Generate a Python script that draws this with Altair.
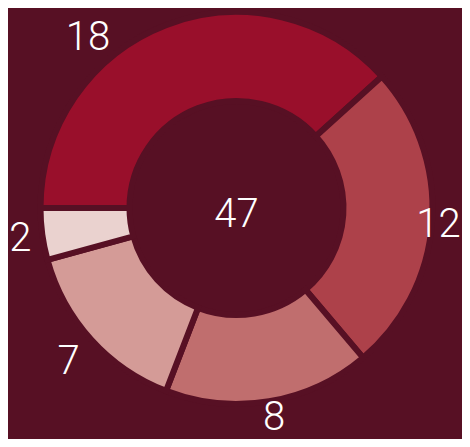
import math
import altair as alt
import pandas as pd

# ---- data ----
segments = ["s1", "s2", "s3", "s4", "s5"]
values = [18, 12, 8, 7, 2]
colors = ["#990f2b", "#ad414a", "#c06e6e", "#d49b97", "#ead2cf"]

bg = "#571024"
total = sum(values)

df = pd.DataFrame({"segment": segments, "value": values, "order": list(range(len(values)))})

# ---- layout ----
W, H = 454, 431
CX, CY = 228.5, 200
R_OUT, R_IN = 196, 107
FONT = "Roboto"
FS = 40
CHW = 0.562 * FS / 2        # half width of one digit
VOFF = 0.055 * FS           # baseline "middle" correction
R0, A_EXT, B_EXT = 205, 19.4, 11.5   # label distance: R0 + A|cos| + B|sin|
TOPLIM = 172                # highest a label centre may sit above the centre

theta_scale = alt.Scale(domain=[0, total], range=[-math.pi / 2, 3 * math.pi / 2])

base = alt.Chart(df).transform_window(
    cum="sum(value)", sort=[alt.SortField("order")], frame=[None, 0]
).transform_calculate(start="datum.cum - datum.value")

arcs = base.mark_arc(radius=R_OUT, radius2=R_IN, stroke=bg, strokeWidth=6).encode(
    theta=alt.Theta("start:Q", scale=theta_scale),
    theta2="cum:Q",
    color=alt.Color("segment:N", scale=alt.Scale(domain=segments, range=colors), legend=None),
    x=alt.value(CX),
    y=alt.value(CY),
)

labels = base.transform_calculate(
    mid="datum.cum - datum.value / 2",
).transform_calculate(
    ang=f"-PI/2 + datum.mid / {total} * 2 * PI",
).transform_calculate(
    d=f"{R0} + {A_EXT} * abs(cos(datum.ang)) + {B_EXT} * abs(sin(datum.ang))",
).transform_calculate(
    ang2=f"(-datum.d * cos(datum.ang) < -{TOPLIM}) ? (datum.ang < 0 ? -1 : 1) * acos({TOPLIM} / datum.d) : datum.ang",
    hw=f"length(toString(datum.value)) * {CHW} + 1",
).transform_calculate(
    lx=f"clamp({CX} + datum.d * sin(datum.ang2), datum.hw, {W} - datum.hw)",
    ly=f"clamp({CY} - datum.d * cos(datum.ang2) + {VOFF}, 0, {H} - {0.51 * FS} - 1)",
).mark_text(
    font=FONT, fontSize=FS, fontWeight=300, color="#ffffff",
    align="center", baseline="middle",
).encode(
    x=alt.X("lx:Q", scale=None),
    y=alt.Y("ly:Q", scale=None),
    text="value:Q",
)

center = alt.Chart(df).transform_aggregate(total="sum(value)").mark_text(
    font=FONT, fontSize=FS, fontWeight=300, color="#ffffff", align="center", baseline="middle",
).encode(
    text="total:Q",
    x=alt.value(CX),
    y=alt.value(CY + 5 + VOFF),
)

chart = alt.layer(arcs, labels, center).properties(
    width=W, height=H, padding=0,
    autosize=alt.AutoSizeParams(type="none"),
    background=bg,
).configure_view(stroke=None)

chart.save("out.html", embed_options={"renderer": "svg", "actions": False})
